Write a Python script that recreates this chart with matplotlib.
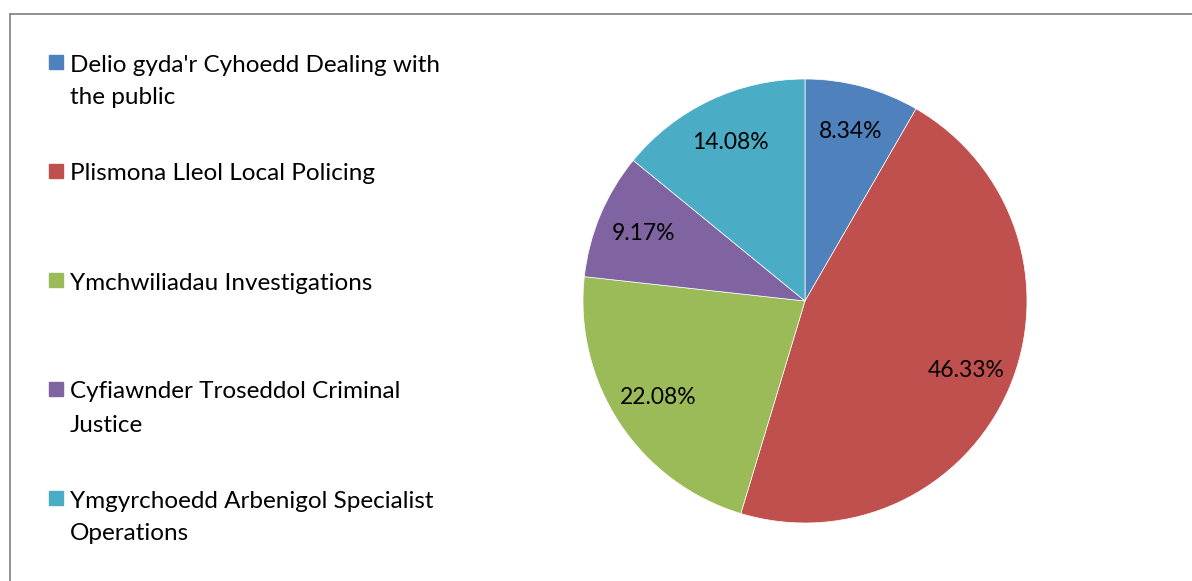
import matplotlib.pyplot as plt
from matplotlib.lines import Line2D
from matplotlib.patches import Rectangle

labels = ["Delio gyda'r Cyhoedd Dealing with\nthe public",
          "Plismona Lleol Local Policing",
          "Ymchwiliadau Investigations",
          "Cyfiawnder Troseddol Criminal\nJustice",
          "Ymgyrchoedd Arbenigol Specialist\nOperations"]
values = [8.34, 46.33, 22.08, 9.17, 14.08]
colors = ['#4F81BD', '#C0504D', '#9BBB59', '#8064A2', '#4BACC6']

W, H = 1192, 581
fig = plt.figure(figsize=(W / 100, H / 100), dpi=100)
plt.rcParams['font.family'] = ['Lato', 'DejaVu Sans']

# chart frame (top and left edges visible)
fig.add_artist(Line2D([10 / W, 10 / W], [0, 1 - 14 / H], color='#888888', lw=1.3))
fig.add_artist(Line2D([10 / W, 1], [1 - 14 / H, 1 - 14 / H], color='#888888', lw=1.3))

# pie
cx, cy, r = 805, 301, 222
ax = fig.add_axes([(cx - r) / W, 1 - (cy + r) / H, 2 * r / W, 2 * r / H])
wedges, texts, autotexts = ax.pie(values, colors=colors, startangle=90, counterclock=False,
                                  autopct=lambda p: '%.2f%%' % p, pctdistance=0.79,
                                  wedgeprops=dict(linewidth=0.5, edgecolor='white'),
                                  textprops=dict(fontsize=16.5, color='black'))
ax.set_aspect('equal')
ax.set_xlim(-1, 1)
ax.set_ylim(-1, 1)

# legend drawn Excel-style: square aligned to first line
y0, step = 62, 109
for i, (lab, col) in enumerate(zip(labels, colors)):
    y = y0 + i * step
    fig.add_artist(Rectangle((49 / W, 1 - (y + 7) / H), 14 / W, 14 / H, color=col,
                             transform=fig.transFigure))
    fig.text(70 / W, 1 - (y + 1) / H, lab.split('\n')[0], fontsize=17.5, va='center_baseline',
             ha='left', color='black')
    if '\n' in lab:
        fig.text(70 / W, 1 - (y + 34) / H, lab.split('\n')[1], fontsize=17.5,
                 va='center_baseline', ha='left', color='black')

fig.savefig('out.png', dpi=100)
